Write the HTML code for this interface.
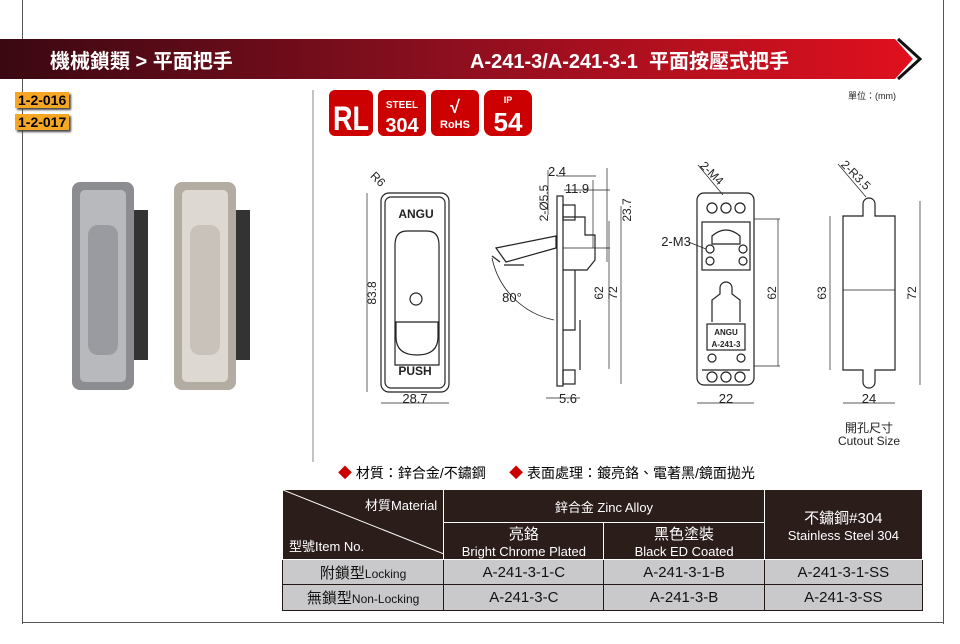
<!DOCTYPE html>
<html><head><meta charset="utf-8"><style>
body{margin:0;width:960px;height:644px;background:#fff;position:relative;overflow:hidden;font-family:"Liberation Sans","Noto Sans CJK TC",sans-serif}
.a{position:absolute}
table{border-collapse:collapse;position:absolute;left:282px;top:489px;width:641px;font-size:13px}
td{border:1px solid #231815;text-align:center;padding:0}
.d{background:#2a1d1a;color:#fff}
.g{background:#c9c9cb;color:#111;font-size:15px}
.d td{border-color:#fff}
</style></head><body>
<div class="a" style="left:22px;top:0;width:1px;height:624px;background:#555"></div>
<div class="a" style="left:943px;top:0;width:1px;height:624px;background:#555"></div>
<div class="a" style="left:22px;top:622px;width:922px;height:1px;background:#555"></div>
<svg class="a" style="left:0;top:0" width="960" height="644">
<defs><linearGradient id="hg" x1="0" x2="1"><stop offset="0" stop-color="#3a0812"/><stop offset="0.5" stop-color="#8e0f1f"/><stop offset="1" stop-color="#e0101e"/></linearGradient></defs>
<polygon points="0,39 895,39 913,59 895,79 0,79" fill="url(#hg)"/>
<polyline points="898,39 920,59 898,79" fill="none" stroke="#111" stroke-width="3"/>
<line x1="313" y1="90" x2="313" y2="462" stroke="#888"/>
<g fill="none" stroke="#222" stroke-width="1.2">
<rect x="381" y="193" width="68" height="199" rx="8"/>
<rect x="385" y="197" width="60" height="191" rx="6"/>
<path d="M395,245 q0,-14 12,-14 h20 q12,0 12,14 v120 h-44z"/>
<path d="M396,322 h42 v15 q0,18 -21,18 q-21,0 -21,-18z"/>
<circle cx="416" cy="299" r="6"/>
<line x1="367" y1="193" x2="367" y2="392" stroke-width="0.7"/>
<line x1="381" y1="403" x2="449" y2="403" stroke-width="0.7"/>
<rect x="557" y="196" width="6" height="190"/>
<rect x="563" y="205" width="12" height="15"/>
<rect x="563" y="370" width="12" height="14"/>
<path d="M563,217 h22 v18 h10 v25 l-8,10 h-24 M575,270 v60 h-12 M580,320 v50"/>
<path d="M496,248 l60,-12 v12 l-50,14z"/>
<path d="M500,262 l-8,-6 M504,265 h20"/>
<path d="M492,258 a80,80 0 0 0 62,62" stroke-width="0.8"/>
<g stroke-width="0.7"><line x1="593" y1="180" x2="593" y2="248"/><line x1="607" y1="168" x2="607" y2="262"/><line x1="609" y1="221" x2="609" y2="369"/><line x1="621" y1="206" x2="621" y2="384"/><line x1="548" y1="170" x2="548" y2="215"/><line x1="557" y1="176" x2="596" y2="176"/><line x1="546" y1="398" x2="580" y2="398"/><line x1="564" y1="190" x2="610" y2="190"/><line x1="563" y1="248" x2="610" y2="248"/></g>
<rect x="697" y="193" width="57" height="192" rx="7"/>
<rect x="702" y="222" width="48" height="48"/>
<circle cx="712" cy="208" r="5"/><circle cx="726" cy="208" r="5"/><circle cx="740" cy="208" r="5"/>
<circle cx="712" cy="377" r="5"/><circle cx="726" cy="377" r="5"/><circle cx="740" cy="377" r="5"/>
<circle cx="710" cy="249" r="4"/><circle cx="743" cy="249" r="4"/><circle cx="710" cy="261" r="4"/><circle cx="743" cy="261" r="4"/>
<circle cx="712" cy="358" r="4"/><circle cx="741" cy="358" r="4"/>
<path d="M712,322 v-22 l8,-6 v-6 a5,5 0 0 1 12,0 v6 l8,6 v22 M702,370 h48"/>
<rect x="707" y="324" width="38" height="26"/>
<path d="M712,236 q14,-12 28,0 v8 h-28z"/>
<g stroke-width="0.7"><line x1="697" y1="403" x2="754" y2="403"/><line x1="778" y1="219" x2="778" y2="366"/><line x1="754" y1="219" x2="780" y2="219"/><line x1="754" y1="366" x2="780" y2="366"/><line x1="698" y1="165" x2="723" y2="195"/><line x1="686" y1="241" x2="706" y2="249"/></g>
<path d="M843,216 h20 v-12 a6,6 0 0 1 12,0 v12 h20 v154 h-20 v12 a6,6 0 0 1 -12,0 v-12 h-20z"/>
<g stroke-width="0.7"><line x1="830" y1="216" x2="830" y2="370"/><line x1="920" y1="201" x2="920" y2="385"/><line x1="843" y1="403" x2="895" y2="403"/><line x1="838" y1="164" x2="866" y2="197"/><line x1="843" y1="290" x2="895" y2="290"/></g>
</g>
<g fill="#c00"><rect x="329" y="90" width="44" height="46" rx="6"/><rect x="378" y="90" width="48" height="46" rx="6"/><rect x="431" y="90" width="48" height="46" rx="6"/><rect x="484" y="90" width="48" height="46" rx="8"/></g>
<g fill="#fff" font-weight="bold" font-family="Liberation Sans" text-anchor="middle">
<text x="351" y="130" font-size="34" textLength="36" lengthAdjust="spacingAndGlyphs">RL</text>
<text x="402" y="108" font-size="10">STEEL</text><text x="402" y="132" font-size="20">304</text>
<text x="455" y="128" font-size="11">RoHS</text><text x="455" y="113" font-size="18">√</text>
<text x="508" y="131" font-size="26">54</text><text x="508" y="103" font-size="9">IP</text></g>
<g font-size="13" fill="#222" text-anchor="middle">
<text x="416" y="218" font-weight="bold" font-size="12">ANGU</text><text x="415" y="375" font-weight="bold" font-size="12">PUSH</text>
<text x="415" y="403">28.7</text><text x="568" y="403">5.6</text><text x="726" y="403">22</text><text x="869" y="403">24</text>
<text x="557" y="176">2.4</text><text x="577" y="193">11.9</text><text x="676" y="246">2-M3</text>
<text x="512" y="302">80°</text>
<text x="726" y="335" font-size="8" font-weight="bold">ANGU</text><text x="726" y="347" font-size="8" font-weight="bold">A-241-3</text>
<text x="869" y="432" font-size="12">開孔尺寸</text><text x="869" y="445" font-size="12">Cutout Size</text>
<text x="848" y="99" font-size="9" text-anchor="start">單位：(mm)</text>
<g font-size="12"><text transform="translate(376,293) rotate(-90)">83.8</text><text transform="translate(603,293) rotate(-90)">62</text><text transform="translate(617,293) rotate(-90)">72</text><text transform="translate(631,210) rotate(-90)">23.7</text><text transform="translate(548,203) rotate(-90)">2-Ø5.5</text><text transform="translate(776,293) rotate(-90)">62</text><text transform="translate(826,293) rotate(-90)">63</text><text transform="translate(916,293) rotate(-90)">72</text><text transform="translate(709,176) rotate(45)">2-M4</text><text transform="translate(853,178) rotate(45)">2-R3.5</text><text transform="translate(375,182) rotate(45)">R6</text></g>
</g>
<rect x="72" y="182" width="62" height="208" rx="8" fill="#8c8d90"/><rect x="80" y="190" width="46" height="192" rx="5" fill="#b8b9bc"/><rect x="88" y="225" width="30" height="130" rx="10" fill="#9a9ba0"/><rect x="134" y="210" width="14" height="150" fill="#333"/>
<rect x="174" y="182" width="62" height="208" rx="8" fill="#b3aca3"/><rect x="182" y="190" width="46" height="192" rx="5" fill="#ddd8d1"/><rect x="190" y="225" width="30" height="130" rx="10" fill="#c8c2ba"/><rect x="236" y="210" width="14" height="150" fill="#333"/>
</svg>
<div class="a" style="left:50px;top:45px;color:#fff;font-size:20px;font-weight:bold">機械鎖類 &gt; 平面把手</div>
<div class="a" style="left:470px;top:45px;color:#fff;font-size:20px;font-weight:bold">A-241-3/A-241-3-1&nbsp; 平面按壓式把手</div>
<div class="a" style="left:15px;top:92px;background:#f5a623;font-weight:bold;font-size:14px;padding:0 3px;box-shadow:2px 2px 2px #444">1-2-016</div>
<div class="a" style="left:15px;top:114px;background:#f5a623;font-weight:bold;font-size:14px;padding:0 3px;box-shadow:2px 2px 2px #444">1-2-017</div>
<div class="a" style="left:338px;top:463px;font-size:14px"><span style="color:#c00">◆</span> 材質：鋅合金/不鏽鋼 &nbsp;&nbsp;&nbsp;&nbsp; <span style="color:#c00">◆</span> 表面處理：鍍亮鉻、電著黑/鏡面拋光</div>
<table>
<tr class="d" style="height:33px"><td rowspan="2" style="width:161px;position:relative;text-align:left"><svg class="a" style="left:0;top:0" width="161" height="64"><line x1="0" y1="0" x2="161" y2="64" stroke="#fff"/></svg><span class="a" style="right:6px;top:5px">材質Material</span><span class="a" style="left:6px;bottom:4px">型號Item No.</span></td><td colspan="2">鋅合金 Zinc Alloy</td><td rowspan="2" style="width:158px"><span style="font-size:15px">不鏽鋼#304</span><br>Stainless Steel 304</td></tr>
<tr class="d" style="height:31px"><td style="width:160px"><span style="font-size:15px">亮鉻</span><br>Bright Chrome Plated</td><td style="width:160px"><span style="font-size:15px">黑色塗裝</span><br>Black ED Coated</td></tr>
<tr class="g" style="height:25px"><td>附鎖型<span style="font-size:12px">Locking</span></td><td>A-241-3-1-C</td><td>A-241-3-1-B</td><td>A-241-3-1-SS</td></tr>
<tr class="g" style="height:26px"><td>無鎖型<span style="font-size:12px">Non-Locking</span></td><td>A-241-3-C</td><td>A-241-3-B</td><td>A-241-3-SS</td></tr>
</table>
</body></html>
